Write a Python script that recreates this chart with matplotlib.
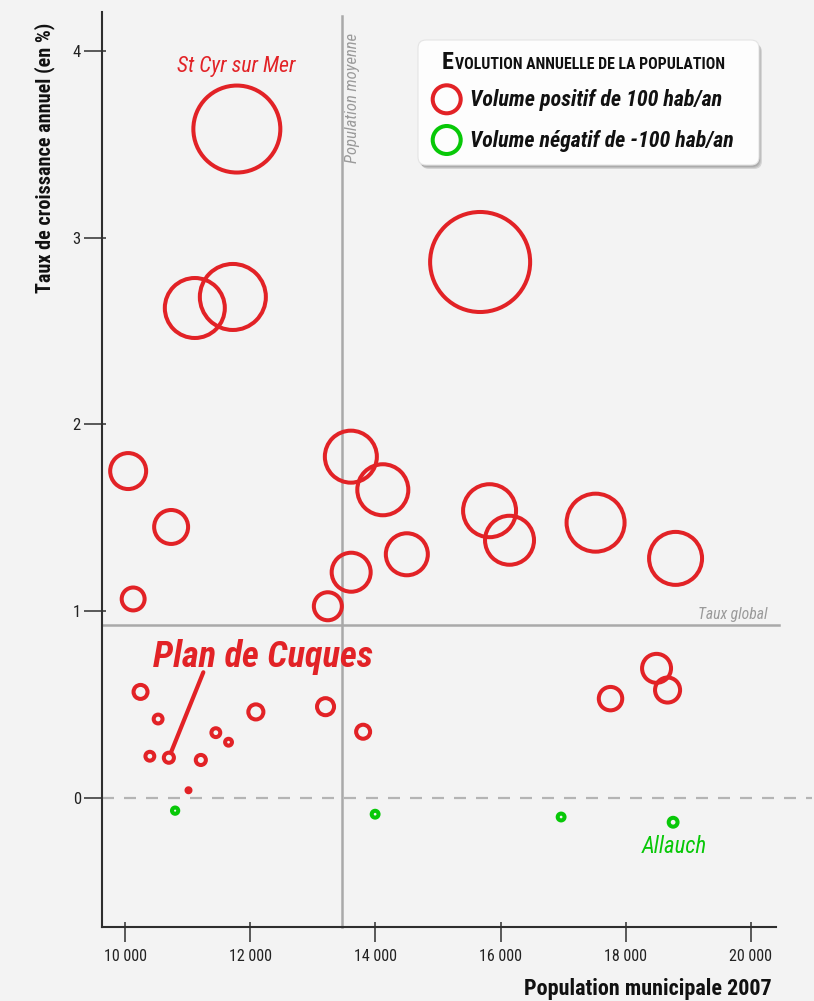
import matplotlib
matplotlib.use('Agg')
import matplotlib.pyplot as plt
import numpy as np
from matplotlib import font_manager as fm
from matplotlib.patches import FancyBboxPatch, Circle
from matplotlib.transforms import IdentityTransform

W, H, DPI = 814, 1001, 100

# ---------------- data ----------------
population = [11783, 11111, 11719, 15673, 10045, 10732, 10125, 13606, 14117, 14501,
              13611, 13238, 15824, 16143, 17519, 18798, 18494, 18670, 17758,
              10243, 10524, 10392, 10696, 11207, 11447, 11650, 12087, 13201, 13802, 11010,
              10796, 13994, 16968, 18759]
taux = [3.580, 2.623, 2.682, 2.869, 1.751, 1.452, 1.067, 1.828, 1.651, 1.306,
        1.210, 1.028, 1.539, 1.381, 1.475, 1.284, 0.696, 0.580, 0.534,
        0.570, 0.425, 0.226, 0.218, 0.206, 0.352, 0.301, 0.463, 0.491, 0.357, 0.044,
        -0.065, -0.084, -0.099, -0.127]
volume = [965, 459, 556, 1276, 165, 147, 67, 345, 332, 225,
          194, 100, 358, 306, 429, 358, 107, 80, 70,
          25, 10, 10, 13, 13, 10, 6, 29, 37, 25, 2,
          -5, -6, -6, -10]
mean_population = 13470
taux_global = 0.929
xticks = [10000, 12000, 14000, 16000, 18000, 20000]
xticklabels = ['10 000', '12 000', '14 000', '16 000', '18 000', '20 000']
yticks = [0, 1, 2, 3, 4]
yticklabels = ['0', '1', '2', '3', '4']
legend_volume = 100

RED = '#e22226'
GREEN = '#08c808'
BG = '#f3f3f3'
DARK = '#2e2e2e'
GREY = '#a9a9a9'
LW = 2.9

# pick the narrowest installed sans family
_names = {f.name for f in fm.fontManager.ttflist}
_pref = ['Liberation Sans Narrow', 'Roboto Condensed', 'Open Sans Condensed',
         'Noto Sans Condensed', 'Arial Narrow']
_cond = [n for n in _pref if n in _names]
if not _cond:
    _cond = sorted(n for n in _names if ('Narrow' in n or 'Condensed' in n)
                   and 'Mono' not in n and 'Serif' not in n)
NARROW = ([_cond[0]] if _cond else []) + ['Liberation Sans', 'DejaVu Sans']

fig = plt.figure(figsize=(W / DPI, H / DPI), dpi=DPI, facecolor=BG)
ax = fig.add_axes([101.7 / W, 1 - 926.7 / H, (776 - 101.7) / W, (926.7 - 11.7) / H])
ax.set_facecolor(BG)
XMIN, XMAX = 9622, 20404
YMIN, YMAX = -0.6856, 4.2075
ax.set_xlim(XMIN, XMAX)
ax.set_ylim(YMIN, YMAX)


def radius_px(v):
    return 14 * np.sqrt(np.abs(np.asarray(v, dtype=float)) / 100)


def msize(v):
    return (2 * radius_px(v) * 72 / DPI) ** 2


colors = [RED if v > 0 else GREEN for v in volume]
ax.scatter(population, taux, s=msize(volume), facecolors='none', edgecolors=colors,
           linewidths=LW, zorder=5)

# reference lines
ax.plot([mean_population, mean_population], [YMIN, 4.186], color=GREY, lw=1.8,
        clip_on=False, zorder=2)
ax.plot([XMIN, 20452], [taux_global, taux_global], color=GREY, lw=1.8,
        clip_on=False, zorder=2)
ax.plot([XMIN, 20980], [0, 0], color='#b4b4b4', lw=1.6, ls=(0, (5.4, 4.5)),
        clip_on=False, zorder=2)

# axes styling
for s in ['top', 'right']:
    ax.spines[s].set_visible(False)
for s in ['left', 'bottom']:
    ax.spines[s].set_color(DARK)
    ax.spines[s].set_linewidth(1.5)

ax.set_xticks(xticks)
ax.set_xticklabels(xticklabels, fontfamily=NARROW, fontsize=11.5, color='#222')
ax.set_yticks(yticks)
ax.set_yticklabels(yticklabels, fontfamily=NARROW, fontsize=12, color='#222')
ax.set_xticks(xticks, minor=True)
ax.set_yticks(yticks, minor=True)
ax.xaxis.remove_overlapping_locs = False
ax.yaxis.remove_overlapping_locs = False
ax.tick_params(axis='x', which='major', direction='out', length=10.8, width=1.1,
               color=DARK, pad=5)
ax.tick_params(axis='x', which='minor', direction='in', length=3.6, width=1.1,
               color=DARK)
ax.tick_params(axis='y', which='major', direction='out', length=13, width=1.1,
               color=DARK, pad=2)
ax.tick_params(axis='y', which='minor', direction='in', length=3, width=1.1,
               color=DARK)

# annotation line for Plan de Cuques
ax.annotate('', xy=(population[22], taux[22]), xytext=(11247, 0.675),
            arrowprops=dict(arrowstyle='-', color=RED, lw=3, shrinkA=0, shrinkB=4),
            zorder=6)


def fx(x):
    return x / W


def fy(y):
    return 1 - y / H


fitted = []  # (text, target px, vertical?)

# axis titles
t = fig.text(fx(45), fy(23), 'Taux de croissance annuel (en %)', rotation=90,
             ha='center', va='top', fontsize=14, fontweight='bold', family=NARROW,
             color='#111')
fitted.append((t, 270, True))
t = fig.text(fx(772), fy(995), 'Population municipale 2007', ha='right', va='baseline',
             fontsize=15, fontweight='bold', family=NARROW, color='#111')
fitted.append((t, 248, False))

# labels
t = fig.text(fx(236), fy(72), 'St Cyr sur Mer', ha='center', va='baseline',
             fontsize=16, style='italic', family=NARROW, color=RED)
fitted.append((t, 119, False))
t = fig.text(fx(153), fy(667), 'Plan de Cuques', ha='left', va='baseline',
             fontsize=25, style='italic', fontweight='bold', family=NARROW, color=RED)
fitted.append((t, 220, False))
t = fig.text(fx(674), fy(853), 'Allauch', ha='center', va='baseline',
             fontsize=15, style='italic', family=NARROW, color=GREEN)
fitted.append((t, 65, False))
t = fig.text(fx(768), fy(619), 'Taux global', ha='right', va='baseline',
             fontsize=11.5, style='italic', family=NARROW, color='#9a9a9a')
fitted.append((t, 70, False))
t = fig.text(fx(353), fy(33), 'Population moyenne', rotation=90, ha='center', va='top',
             fontsize=12, style='italic', family=NARROW, color='#9a9a9a')
fitted.append((t, 130, True))

# legend box
idt = IdentityTransform()
for i, a in enumerate([0.10, 0.10, 0.12]):
    sh = FancyBboxPatch((418 + 1 + i, H - 165 - 2 - i), 341, 125,
                        boxstyle='round,pad=0,rounding_size=8', transform=idt,
                        facecolor='#000000', edgecolor='none', alpha=a, zorder=8)
    fig.add_artist(sh)
box = FancyBboxPatch((418, H - 165), 341, 125, boxstyle='round,pad=0,rounding_size=8',
                     transform=idt, facecolor='#fdfdfd', edgecolor='#e4e4e4',
                     lw=0.8, zorder=9)
fig.add_artist(box)

r_leg = float(radius_px(legend_volume))
fig.add_artist(Circle((446.7, H - 99.3), r_leg, fill=False, ec=RED, lw=LW,
                      transform=idt, zorder=10))
fig.add_artist(Circle((446.7, H - 140), r_leg, fill=False, ec=GREEN, lw=LW,
                      transform=idt, zorder=10))
t = fig.text(fx(470), fy(100), 'Volume positif de 100 hab/an', ha='left', va='center',
             fontsize=13.5, style='italic', fontweight='bold', family=NARROW,
             color='#111', zorder=10)
fitted.append((t, 253, False))
t = fig.text(fx(470), fy(141), 'Volume négatif de -100 hab/an', ha='left', va='center',
             fontsize=13.5, style='italic', fontweight='bold', family=NARROW,
             color='#111', zorder=10)
fitted.append((t, 265, False))

tE = fig.text(fx(442), fy(69), 'E', ha='left', va='baseline', fontsize=17.5,
              fontweight='bold', family=NARROW, color='#111', zorder=10)

# fit text sizes to the reference's measured extents
fig.canvas.draw()
for t, target, vert in fitted:
    bb = t.get_window_extent()
    size = bb.height if vert else bb.width
    if size > 0:
        t.set_fontsize(t.get_fontsize() * target / size)

fig.canvas.draw()
bbE = tE.get_window_extent()
rest = fig.text((bbE.x1 + 1) / W, fy(69), 'VOLUTION ANNUELLE DE LA POPULATION', ha='left',
                va='baseline', fontsize=10.5, fontweight='bold', family=NARROW,
                color='#111', zorder=10)
fig.canvas.draw()
bb = rest.get_window_extent()
rest.set_fontsize(rest.get_fontsize() * (726 - (bbE.x1 + 1)) / bb.width)

fig.savefig('out.png', dpi=DPI, facecolor=BG)
